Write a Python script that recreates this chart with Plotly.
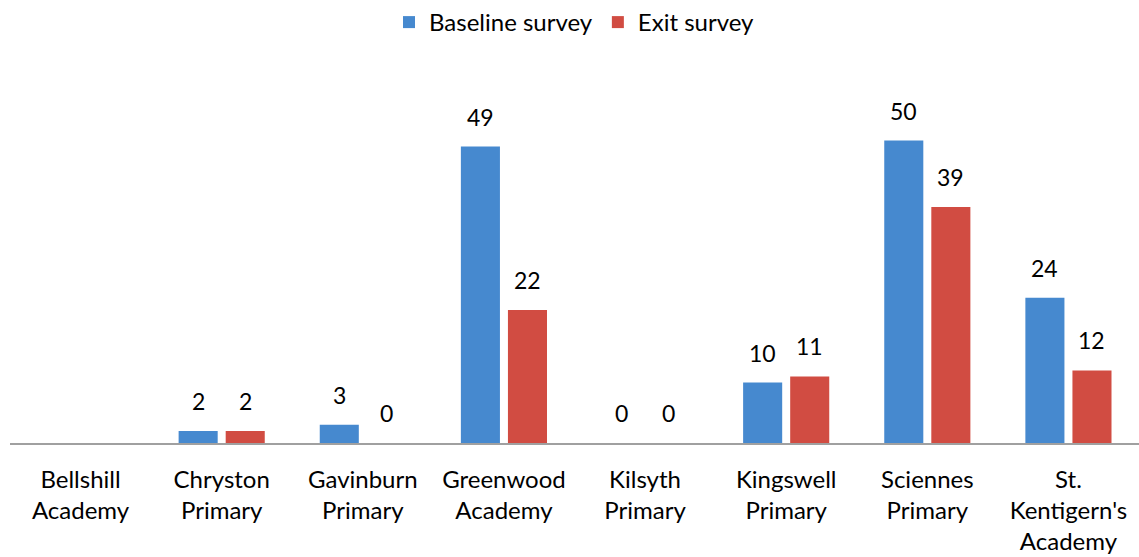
import plotly.graph_objects as go

categories = ["Bellshill<br>Academy", "Chryston<br>Primary", "Gavinburn<br>Primary",
              "Greenwood<br>Academy", "Kilsyth<br>Primary", "Kingswell<br>Primary",
              "Sciennes<br>Primary", "St.<br>Kentigern's<br>Academy"]
baseline = [None, 2, 3, 49, 0, 10, 50, 24]
exit_survey = [None, 2, 0, 22, 0, 11, 39, 12]
series_names = ["Baseline survey", "Exit survey"]
colors = ["#4689cf", "#d14c42"]

FONT = "Lato"
fig = go.Figure()
for name, vals, col in zip(series_names, [baseline, exit_survey], colors):
    fig.add_trace(go.Bar(x=categories, y=vals, name=name,
                         marker=dict(color=col, line=dict(width=0))))

annotations = []
for vals, shift in [(baseline, -23.5), (exit_survey, 23.5)]:
    for c, v in zip(categories, vals):
        if v is None:
            continue
        annotations.append(dict(x=c, y=v, text=str(v), showarrow=False,
                                xref="x", yref="y", xshift=shift, yshift=14,
                                yanchor="bottom",
                                font=dict(family=FONT, size=23, color="#000000")))

fig.update_layout(
    width=1139, height=557,
    margin=dict(l=10, r=0, t=80, b=114),
    paper_bgcolor="white", plot_bgcolor="white",
    barmode="group", bargap=0.333, bargroupgap=0.17,
    font=dict(family=FONT, size=23, color="#000000"),
    showlegend=True,
    legend=dict(orientation="h", x=0.5, xanchor="center", y=1.0, yanchor="top",
                yref="container", font=dict(family=FONT, size=24),
                itemwidth=30, traceorder="normal"),
    annotations=annotations,
)
fig.update_xaxes(showline=True, linecolor="#a0a0a0", linewidth=2, ticks="",
                 showgrid=False, tickfont=dict(family=FONT, size=24),
                 ticklabelstandoff=14)
fig.update_yaxes(range=[0, 60], visible=False, showgrid=False)
fig.write_html("out.html")
